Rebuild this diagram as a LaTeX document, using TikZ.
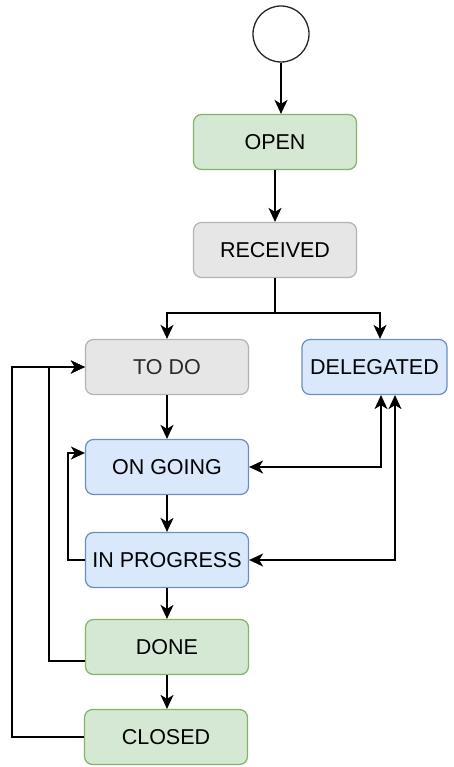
\documentclass[tikz,border=0pt]{standalone}
\usepackage{fontspec}
\setmainfont{Liberation Sans}
\usetikzlibrary{arrows.meta,calc}
\definecolor{GreenFillClr}{HTML}{D5E8D4}
\definecolor{GreenLineClr}{HTML}{82B366}
\definecolor{GreyFillClr}{HTML}{E6E6E6}
\definecolor{GreyLineClr}{HTML}{B3B3B3}
\definecolor{BlueFillClr}{HTML}{DAE8FC}
\definecolor{BlueLineClr}{HTML}{6C8EBF}
\definecolor{GreyTextClr}{HTML}{2A2A2A}

\begin{document}
\begin{tikzpicture}[x=1pt,y=-1pt,
  state/.style={rectangle,rounded corners=8pt,line width=1.2pt,minimum width=163pt,
    minimum height=55pt,inner sep=0pt,font=\fontsize{21.5}{25}\selectfont},
  greenstate/.style={state,draw=GreenLineClr,fill=GreenFillClr},
  greystate/.style={state,draw=GreyLineClr,fill=GreyFillClr},
  bluestate/.style={state,draw=BlueLineClr,fill=BlueFillClr},
  startnode/.style={circle,draw=black!85,line width=1.3pt,minimum size=56pt,inner sep=0pt},
  flow/.style={line width=1.7pt,-{Stealth[length=14pt,width=13pt,inset=4pt]}},
  twoway/.style={line width=1.7pt,{Stealth[length=14pt,width=13pt,inset=4pt]}-{Stealth[length=14pt,width=13pt,inset=4pt]}}]
\useasboundingbox (0,0) rectangle (453,767);

% states
\node[startnode] (start) at (281,34) {};
\node[greenstate] (open) at (275,142) {OPEN};
\node[greystate] (received) at (275,250) {RECEIVED};
\node[greystate,text=GreyTextClr] (todo) at (167,367) {TO DO};
\node[bluestate,minimum width=145pt] (delegated) at (374.5,367) {DELEGATED};
\node[bluestate] (ongoing) at (167,467) {ON GOING};
\node[bluestate] (inprogress) at (167,560) {IN PROGRESS};
\node[greenstate] (done) at (167,647) {DONE};
\node[greenstate] (closed) at (166,737) {CLOSED};

% bends
\coordinate (split) at (275,313);
\coordinate (delA) at ($(delegated.south)+(6.5,0)$);
\coordinate (delB) at ($(delegated.south)+(20.5,0)$);
\coordinate (loopA) at (68,453);
\coordinate (loopB) at (49,367);
\coordinate (loopC) at (12,367);

% transitions
\draw[flow] (start) -- (start |- open.north);
\draw[flow] (open) -- (received);
\draw[flow] (received.south) -- (split) -| (todo.north);
\draw[flow] (split) -| ($(delegated.north)+(5.5,0)$);
\draw[flow] (todo) -- (ongoing);
\draw[twoway] (ongoing.east) -| (delA);
\draw[twoway] (inprogress.east) -| (delB);
\draw[flow] (ongoing) -- (inprogress);
\draw[flow] (inprogress.west) -| (loopA) -- (loopA -| ongoing.west);
\draw[flow] (inprogress) -- (done);
\draw[flow] ($(done.west)+(0,14)$) -| (loopB) -- (todo.west);
\draw[flow] (done) -- (done |- closed.north);
\draw[flow] (closed.west) -| (loopC) -- (todo.west);

\end{tikzpicture}
\end{document}
